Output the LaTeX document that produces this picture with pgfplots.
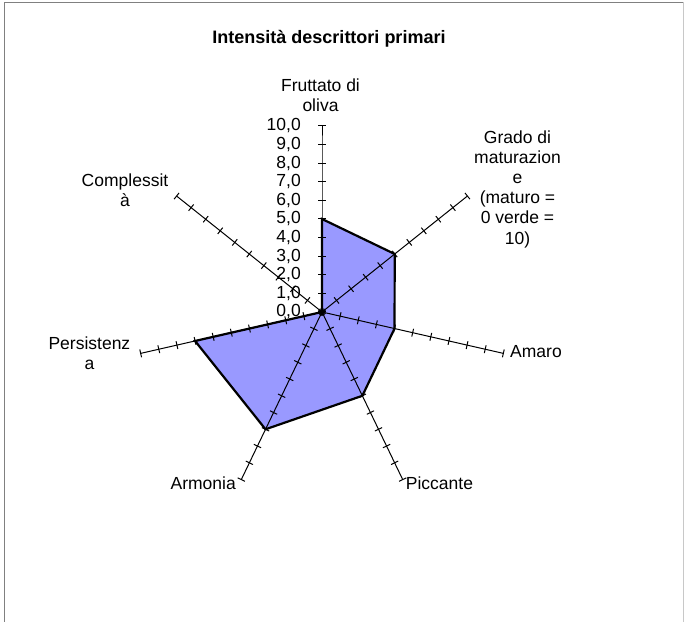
\documentclass[border=0pt]{standalone}
\usepackage{fontspec}
\setmainfont{Liberation Sans}
\usepackage{pgfplots}
\usepgfplotslibrary{polar}
\pgfplotsset{compat=1.18}
\definecolor{areafill}{RGB}{153,153,255}
\definecolor{framedark}{RGB}{128,128,128}
\definecolor{framelight}{RGB}{200,200,200}

\newcommand{\lab}{\fontsize{17.5bp}{20.2bp}\selectfont}

\begin{document}
\begin{tikzpicture}[x=1bp,y=1bp]
\useasboundingbox (0,0) rectangle (684,622);
% chart area frame (bottom edge is cut off in the reference)
\draw[framedark, line width=1bp] (4.5,0) -- (4.5,619.5) -- (683,619.5);
\draw[framelight, line width=1bp] (683.5,619.5) -- (683.5,0);

\begin{polaraxis}[
  at={(322bp,310bp)}, anchor=center,
  width=372bp, height=372bp, scale only axis,
  xmin=0, xmax=360, ymin=0, ymax=10,
  hide axis, clip=false,
]
% filled area
\addplot[fill=areafill, draw=none, mark=none] coordinates {
  (90,5) (38.571,5) (-12.857,4) (-64.286,5) (-115.714,7) (-167.143,7) (141.429,0)
} --cycle;

% spokes with unit ticks
\pgfplotsset{spoke/.style={black, line width=1bp, mark=|, mark size=4bp,
  mark options={solid, line width=1bp, rotate=#1}}}
\addplot[spoke=90] coordinates {(90,0) (90,1) (90,2) (90,3) (90,4) (90,5) (90,6) (90,7) (90,8) (90,9) (90,10)};
\addplot[spoke=38.571] coordinates {(38.571,0) (38.571,1) (38.571,2) (38.571,3) (38.571,4) (38.571,5) (38.571,6) (38.571,7) (38.571,8) (38.571,9) (38.571,10)};
\addplot[spoke=-12.857] coordinates {(-12.857,0) (-12.857,1) (-12.857,2) (-12.857,3) (-12.857,4) (-12.857,5) (-12.857,6) (-12.857,7) (-12.857,8) (-12.857,9) (-12.857,10)};
\addplot[spoke=-64.286] coordinates {(-64.286,0) (-64.286,1) (-64.286,2) (-64.286,3) (-64.286,4) (-64.286,5) (-64.286,6) (-64.286,7) (-64.286,8) (-64.286,9) (-64.286,10)};
\addplot[spoke=-115.714] coordinates {(-115.714,0) (-115.714,1) (-115.714,2) (-115.714,3) (-115.714,4) (-115.714,5) (-115.714,6) (-115.714,7) (-115.714,8) (-115.714,9) (-115.714,10)};
\addplot[spoke=-167.143] coordinates {(-167.143,0) (-167.143,1) (-167.143,2) (-167.143,3) (-167.143,4) (-167.143,5) (-167.143,6) (-167.143,7) (-167.143,8) (-167.143,9) (-167.143,10)};
\addplot[spoke=141.429] coordinates {(141.429,0) (141.429,1) (141.429,2) (141.429,3) (141.429,4) (141.429,5) (141.429,6) (141.429,7) (141.429,8) (141.429,9) (141.429,10)};

% series outline
\addplot[black, line width=2.2bp, line join=miter, mark=none] coordinates {
  (90,5) (38.571,5) (-12.857,4) (-64.286,5) (-115.714,7) (-167.143,7) (141.429,0)
} --cycle;

% value labels along the first spoke
\addplot[draw=none, mark=none, nodes near coords, point meta=explicit symbolic,
  every node near coord/.style={anchor=east, inner sep=0pt, xshift=-21bp, font=\lab}]
  table[x=a, y=r, meta=lab] {
a r lab
90 0 0,0
90 1 1,0
90 2 2,0
90 3 3,0
90 4 4,0
90 5 5,0
90 6 6,0
90 7 7,0
90 8 8,0
90 9 9,0
90 10 10,0
};
\end{polaraxis}

% title and category labels
\node[font=\fontsize{18bp}{20bp}\selectfont\bfseries, inner sep=0pt] at (329,583.7) {Intensità descrittori primari};
\node[font=\lab, align=center, inner sep=0pt] at (320.5,527) {Fruttato di\\oliva};
\node[font=\lab, align=center, inner sep=0pt] at (517.5,433) {Grado di\\maturazion\\e\\(maturo =\\0 verde =\\10)};
\node[font=\lab, anchor=west, inner sep=0pt] at (510,270.3) {Amaro};
\node[font=\lab, anchor=west, inner sep=0pt] at (405.7,139) {Piccante};
\node[font=\lab, anchor=east, inner sep=0pt] at (236,139) {Armonia};
\node[font=\lab, align=center, inner sep=0pt] at (89.4,268.5) {Persistenz\\a};
\node[font=\lab, align=center, inner sep=0pt] at (125,431.5) {Complessit\\à};
\end{tikzpicture}
\end{document}
